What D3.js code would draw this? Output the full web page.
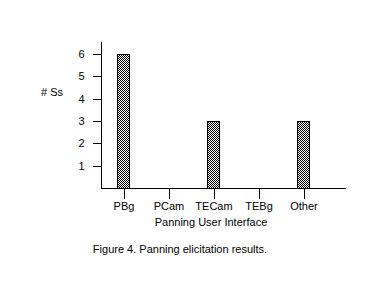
<!DOCTYPE html>
<html>
<head>
<meta charset="utf-8">
<script src="https://cdn.jsdelivr.net/npm/d3@7"></script>
<style>
  body { margin: 0; background: #fff; }
  svg text { font-family: "Liberation Sans", Arial, sans-serif; font-size: 11px; fill: #000; }
</style>
</head>
<body>
<svg id="chart" width="384" height="288"></svg>
<script>
// Panning elicitation results
const categories = ['PBg', 'PCam', 'TECam', 'TEBg', 'Other'];
const counts = [6, 0, 3, 0, 3];
const yTicks = [1, 2, 3, 4, 5, 6];

const svg = d3.select('#chart');

// checkered fill
const pat = svg.append('defs').append('pattern')
    .attr('id', 'checker')
    .attr('width', 2).attr('height', 2)
    .attr('patternUnits', 'userSpaceOnUse');
pat.append('rect').attr('width', 2).attr('height', 2).attr('fill', '#fff');
pat.append('rect').attr('x', 0).attr('y', 0).attr('width', 1).attr('height', 1).attr('fill', '#000');
pat.append('rect').attr('x', 1).attr('y', 1).attr('width', 1).attr('height', 1).attr('fill', '#000');

const x = d3.scalePoint().domain(categories).range([123.5, 303.5]);
const y = d3.scaleLinear().domain([0, 6]).range([188, 54]);

// Axes lines
svg.append('line')
    .attr('x1', 101.5).attr('x2', 101.5)
    .attr('y1', 42).attr('y2', 188.5)
    .attr('stroke', '#000').attr('shape-rendering', 'crispEdges');
svg.append('line')
    .attr('x1', 101).attr('x2', 346)
    .attr('y1', 188.5).attr('y2', 188.5)
    .attr('stroke', '#000').attr('shape-rendering', 'crispEdges');

// Y axis ticks
const yAxis = svg.append('g')
    .attr('transform', 'translate(101.5,0)')
    .call(d3.axisLeft(y).tickValues(yTicks).tickSize(9).tickPadding(8).tickFormat(d3.format('d')));
yAxis.select('.domain').remove();
yAxis.selectAll('line').attr('shape-rendering', 'crispEdges');
yAxis.selectAll('text').style('font-size', '11px').style('font-family', '"Liberation Sans", Arial, sans-serif');

// X axis ticks
const xAxis = svg.append('g')
    .attr('transform', 'translate(0,188.5)')
    .call(d3.axisBottom(x).tickSize(10).tickPadding(4));
xAxis.select('.domain').remove();
xAxis.selectAll('line').attr('shape-rendering', 'crispEdges');
xAxis.selectAll('text').style('font-size', '11px').style('font-family', '"Liberation Sans", Arial, sans-serif');

// Bars
svg.append('g').selectAll('rect')
    .data(categories.map((c, i) => ({ c, v: counts[i] })).filter(d => d.v > 0))
    .join('rect')
    .attr('x', d => x(d.c) - 6)
    .attr('y', d => y(d.v) + 0.5)
    .attr('width', 12)
    .attr('height', d => y(0) - y(d.v))
    .attr('fill', 'url(#checker)')
    .attr('stroke', '#000')
    .attr('shape-rendering', 'crispEdges');

// Labels
svg.append('text')
    .attr('x', 41).attr('y', 96)
    .text('# Ss');

svg.append('text')
    .attr('x', 211).attr('y', 226)
    .attr('text-anchor', 'middle')
    .text('Panning User Interface');

svg.append('text')
    .attr('x', 180).attr('y', 253)
    .attr('text-anchor', 'middle')
    .text('Figure 4. Panning elicitation results.');
</script>
</body>
</html>
